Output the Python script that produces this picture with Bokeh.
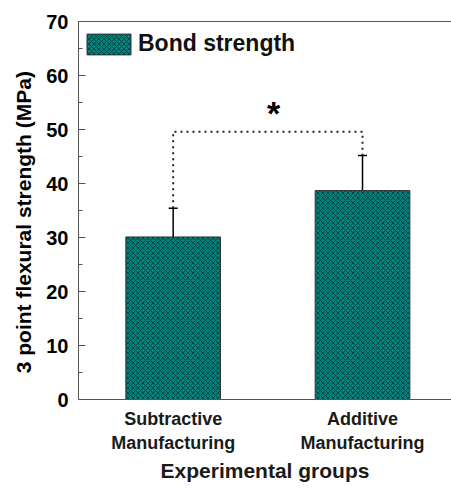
from bokeh.plotting import figure
from bokeh.models import (ColumnDataSource, FixedTicker, Range1d, Whisker, TeeHead,
                          LinearAxis, Legend, LegendItem)
from bokeh.core.properties import value
from bokeh.embed import file_html
from bokeh.resources import INLINE

# ---- data ----
groups = ["Subtractive\nManufacturing", "Additive\nManufacturing"]
positions = [1, 2]
means = [30.1, 38.7]
err_upper = [35.4, 45.2]
err_lower = [25.1, 32.6]
bracket_y = 49.6
star_x = 1.53
star_y = 53.0
y_ticks = [0, 10, 20, 30, 40, 50, 60, 70]
y_title = "3 point flexural strength (MPa)"

FONT = "Liberation Sans"
TEAL = "#00827c"

src = ColumnDataSource(dict(x=positions, top=means, upper=err_upper, lower=err_lower))

p = figure(width=451, height=488, output_backend="svg", toolbar_location=None,
           x_range=Range1d(0.5, 2.47), y_range=Range1d(0, 70),
           min_border_left=78, min_border_right=0, min_border_top=21, min_border_bottom=89)
p.outline_line_color = None
p.xgrid.visible = False
p.ygrid.visible = False
p.background_fill_color = "white"
p.border_fill_color = "white"

bars = p.vbar(x="x", top="top", width=0.5, source=src, fill_color=TEAL,
              line_color="#333333", line_width=1,
              hatch_pattern="x", hatch_color="#0a1a1a", hatch_scale=5, hatch_weight=0.8,
              hatch_alpha=0.7)

wh = Whisker(base="x", upper="upper", lower="lower", source=src,
             line_color="black", line_width=1.5,
             upper_head=TeeHead(size=9, line_width=1.5, line_color="black"),
             lower_head=TeeHead(size=9, line_width=1.5, line_color="black"))
p.add_layout(wh)

# significance bracket
p.line([positions[0], positions[0], positions[1], positions[1]],
       [err_upper[0], bracket_y, bracket_y, err_upper[1]],
       line_color="#222222", line_width=2, line_dash="2 4")
p.text(x=[star_x], y=[star_y], text=["*"], text_align="center", text_baseline="alphabetic",
       text_font=value(FONT), text_font_style="bold", text_font_size="34px", text_color="black")

# axes
p.yaxis.ticker = FixedTicker(ticks=y_ticks, minor_ticks=[5, 15, 25, 35, 45, 55, 65])
p.yaxis.major_tick_in = 7
p.yaxis.major_tick_out = 0
p.yaxis.minor_tick_in = 4
p.yaxis.minor_tick_out = 0
p.yaxis.axis_line_color = "#555555"
p.yaxis.major_tick_line_color = "#555555"
p.yaxis.minor_tick_line_color = "#555555"
p.yaxis.major_label_text_font = FONT
p.yaxis.major_label_text_font_style = "bold"
p.yaxis.major_label_text_font_size = "20px"
p.yaxis.major_label_text_color = "black"
p.yaxis.major_label_standoff = 10
p.yaxis.axis_label = y_title + "\u00a0" * 4
p.yaxis.axis_label_text_font = FONT
p.yaxis.axis_label_text_font_style = "bold"
p.yaxis.axis_label_text_font_size = "21px"
p.yaxis.axis_label_text_color = "black"
p.yaxis.axis_label_standoff = 8

p.xaxis.ticker = FixedTicker(ticks=positions)
p.xaxis.major_label_overrides = {pos: g for pos, g in zip(positions, groups)}
p.xaxis.major_tick_line_color = None
p.xaxis.minor_tick_line_color = None
p.xaxis.axis_line_color = "#555555"
p.xaxis.major_label_text_font = FONT
p.xaxis.major_label_text_font_style = "bold"
p.xaxis.major_label_text_font_size = "18px"
p.xaxis.major_label_text_color = "#1a1a1a"
p.xaxis.major_label_standoff = 3
p.xaxis.axis_label = "Experimental groups"
p.xaxis.axis_label_text_font = FONT
p.xaxis.axis_label_text_font_style = "bold"
p.xaxis.axis_label_text_font_size = "21px"
p.xaxis.axis_label_text_color = "#1a1a1a"
p.xaxis.axis_label_standoff = 3

top_axis = LinearAxis(major_tick_line_color=None, minor_tick_line_color=None,
                      major_label_text_font_size="0px", axis_line_color="#555555")
top_axis.ticker = FixedTicker(ticks=[])
p.add_layout(top_axis, "above")

legend = Legend(items=[LegendItem(label="Bond strength", renderers=[bars])],
                location=(3, 342), border_line_color=None, background_fill_alpha=0,
                glyph_width=55, glyph_height=26, label_height=26, padding=0, margin=0,
                label_text_font=FONT, label_text_font_style="bold", label_text_font_size="23px",
                label_text_color="#111111", label_standoff=2)
p.add_layout(legend)

open("out.html", "w").write(file_html(p, INLINE))
